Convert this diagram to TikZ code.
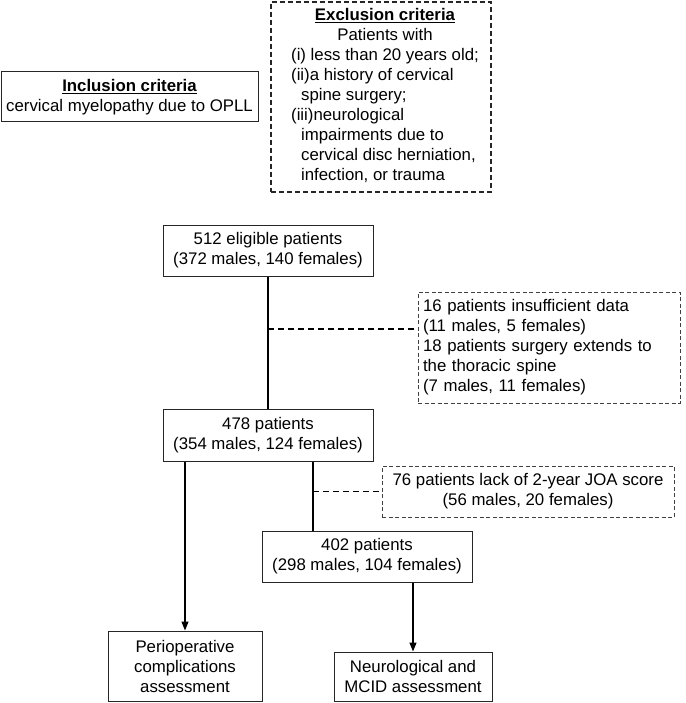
\documentclass[tikz,border=0pt]{standalone}
\usepackage{fontspec}
\setmainfont{Liberation Sans}
\usetikzlibrary{arrows.meta}
\newcommand{\myfs}{\fontsize{16.8}{20}\selectfont}
\begin{document}
\begin{tikzpicture}[x=1pt,y=-1pt,
  box/.style={draw=black!85, line width=1pt, inner sep=0pt, font=\myfs},
  xbox/.style={box, line width=1.5pt, dash pattern=on 5pt off 3pt},
  dbox/.style={box, line width=0.9pt, draw=black!75, dash pattern=on 4pt off 2.5pt},
  conn/.style={draw=black, line width=1.3pt},
  dconn/.style={conn, dash pattern=on 6pt off 4pt},
  tip/.style={-{Triangle[length=9pt,width=7pt]}}]
\useasboundingbox (0,0) rectangle (685,703);

\node[box, align=center, minimum width=257pt, minimum height=50pt] (incl) at (129.5,97)
  {\textbf{\underline{Inclusion criteria}}\\cervical myelopathy due to OPLL};

\node[xbox, minimum width=220pt, minimum height=190pt] (excl) at (381,97)
  {\hspace*{8pt}\begin{tabular}{@{}l@{}}
   \multicolumn{1}{@{}c@{}}{\textbf{\underline{Exclusion criteria}}}\\
   \multicolumn{1}{@{}c@{}}{Patients with}\\
   (i) less than 20 years old;\\
   (ii)a history of cervical\\
   \hspace*{10pt}spine surgery;\\
   (iii)neurological\\
   \hspace*{10pt}impairments due to\\
   \hspace*{10pt}cervical disc herniation,\\
   \hspace*{10pt}infection, or trauma
   \end{tabular}};

\node[box, align=center, minimum width=210pt, minimum height=51pt] (b512) at (268,250.5)
  {512 eligible patients\\(372 males, 140 females)};

\node[dbox, text width=252pt, align=left, minimum width=262pt, minimum height=111pt] (d1) at (549,347.5)
  {\strut 16 patients insufficient data\\(11 males, 5 females)\\18 patients surgery extends to\\the thoracic spine\\(7 males, 11 females)\strut};

\node[box, align=center, minimum width=210pt, minimum height=52pt] (b478) at (268,435)
  {478 patients\\(354 males, 124 females)};

\node[dbox, align=center, minimum width=292pt, minimum height=51pt] (d2) at (528,491.5)
  {76 patients lack of 2-year JOA score\\(56 males, 20 females)};

\node[box, align=center, minimum width=210pt, minimum height=51pt] (b402) at (367,556.5)
  {402 patients\\(298 males, 104 females)};

\node[box, align=center, minimum width=154pt, minimum height=70.5pt] (periop) at (185,666.25)
  {Perioperative\\complications\\assessment};

\node[box, align=center, minimum width=158pt, minimum height=49.5pt] (neuro) at (413,676.75)
  {Neurological and\\MCID assessment};

\coordinate (j1) at (268,329);
\coordinate (s2) at (313,0);

\draw[conn] (b512.south) -- (b478.north);
\draw[dconn] (j1) -- (j1 -| d1.west);
\draw[conn, tip] (b478.south -| periop.north) -- (periop.north);
\draw[conn] (b478.south -| s2) -- (b402.north -| s2);
\draw[dconn] (s2 |- d2.west) -- (d2.west);
\draw[conn, tip] (b402.south -| neuro.north) -- (neuro.north);
\end{tikzpicture}
\end{document}
